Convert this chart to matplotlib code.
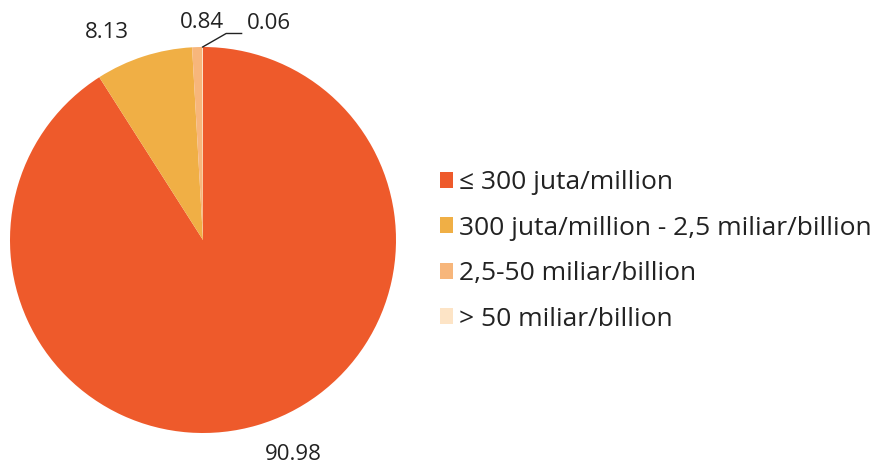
import numpy as np
import matplotlib.pyplot as plt
from matplotlib.patches import Patch

plt.rcParams['font.family'] = ['Open Sans', 'DejaVu Sans']

# shares in percent, clockwise from 12 o'clock
categories = ['\u2264 300 juta/million',
              '300 juta/million - 2,5 miliar/billion',
              '2,5-50 miliar/billion',
              '> 50 miliar/billion']
values = [90.98, 8.13, 0.84, 0.06]
value_labels = ['90.98', '8.13', '0.84', '0.06']
colors = ['#EE5A2B', '#F0AF45', '#F7B67B', '#FDE4C6']

W, H = 882, 465
fig = plt.figure(figsize=(W / 100, H / 100), dpi=100)

# pie centre (203, 240) px, radius 193 px
cx, cy, r = 203, 240, 193
ax = fig.add_axes([(cx - r) / W, (H - cy - r) / H, 2 * r / W, 2 * r / H])
ax.pie(values, colors=colors, startangle=90, counterclock=False,
       wedgeprops=dict(linewidth=0))
ax.set_xlim(-1, 1)
ax.set_ylim(-1, 1)
ax.set_aspect('equal')
ax.axis('off')

# label positions (in pie-radius units)
label_pos = [(0.47, -1.11), (-0.50, 1.075), (-0.005, 1.125), (0.34, 1.12)]
for txt, (lx, ly) in zip(value_labels, label_pos):
    ax.text(lx, ly, txt, ha='center', va='center', fontsize=16,
            color='#222222', clip_on=False)

# leader line for the smallest slice
cum = np.cumsum(values) - np.array(values) / 2
ang = np.deg2rad(90 - 360 * cum[-1] / sum(values))
px, py = np.cos(ang), np.sin(ang)
ax.plot([px, 0.12, 0.20], [py, 1.07, 1.07], color='#222222', lw=1.0,
        clip_on=False)

handles = [Patch(facecolor=c, edgecolor='none') for c in colors]
fig.legend(handles, categories, loc='upper left',
           bbox_to_anchor=(440 / W, (H - 170) / H), frameon=False,
           fontsize=19, handlelength=0.48, handleheight=0.55,
           handletextpad=0.25, labelspacing=0.78, borderpad=0,
           borderaxespad=0, labelcolor='#222222')

fig.savefig('out.png', dpi=100)
